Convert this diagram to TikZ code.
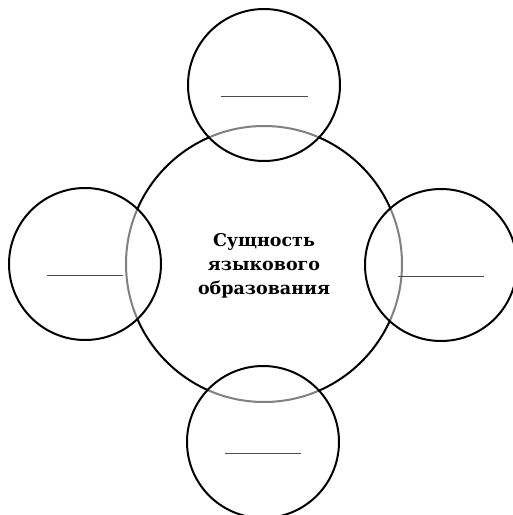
\documentclass[tikz,border=0pt]{standalone}
\usepackage{fontspec}
\setmainfont{DejaVu Serif}
\usetikzlibrary{positioning}

\begin{document}
\begin{tikzpicture}[x=1pt, y=-1pt,
    core/.style={circle, draw, line width=2pt, minimum size=276pt, inner sep=0pt},
    facet/.style={circle, draw, line width=2pt, fill=white, fill opacity=0.5, minimum size=152pt, inner sep=0pt},
    blank/.style={rectangle, fill=black!70, minimum width=#1, minimum height=1.1pt, inner sep=0pt},
    title/.style={font=\bfseries\fontsize{17.5}{24}\selectfont, align=center}
]
    \useasboundingbox (0,0) rectangle (513,515);

    % Central circle
    \node[core] (core) at (264,264) {};

    % Outer circles
    \node[facet] (top) at (264,85) {};
    \node[facet] (left) at (85,264) {};
    \node[facet] (right) at (441,265) {};
    \node[facet] (bottom) at (263,442) {};

    % Blanks
    \node[blank=87pt, below=10.6pt of top.center] (topline) {};
    \node[blank=76pt, below=10.6pt of left.center] (leftline) {};
    \node[blank=86pt, below=10.6pt of right.center] (rightline) {};
    \node[blank=76pt, below=10.6pt of bottom.center] (bottomline) {};

    % Title
    \node[title] (name) at (264,266) {Сущность\\языкового\\образования};
\end{tikzpicture}
\end{document}
